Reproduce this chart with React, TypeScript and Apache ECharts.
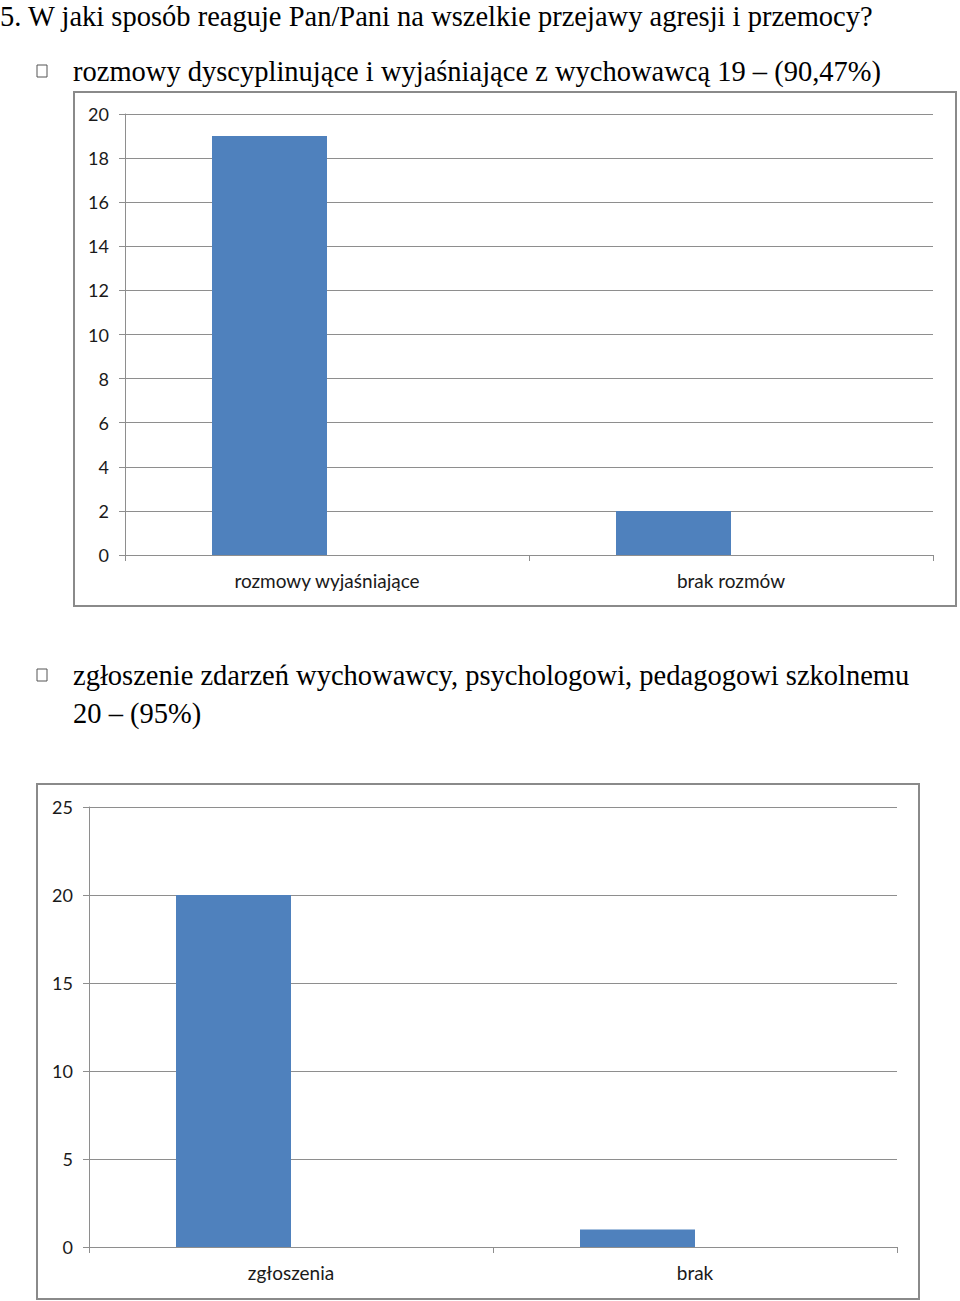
import React, { useEffect, useRef } from "react";
import * as echarts from "echarts";

const questionTitle = "5. W jaki sposób reaguje Pan/Pani na wszelkie przejawy agresji i przemocy?";
const bullet1Text = "rozmowy dyscyplinujące i wyjaśniające z wychowawcą 19 – (90,47%)";
const bullet2Line1 = "zgłoszenie zdarzeń wychowawcy, psychologowi, pedagogowi szkolnemu";
const bullet2Line2 = "20 – (95%)";

const chart1Categories = ["rozmowy wyjaśniające", "brak rozmów"];
const chart1Values = [19, 2];
const chart1Max = 20;
const chart1Interval = 2;

const chart2Categories = ["zgłoszenia", "brak"];
const chart2Values = [20, 1];
const chart2Max = 25;
const chart2Interval = 5;

const BAR = "#4F81BD";
const GRID = "#8e8e8e";
const SERIF = "'Liberation Serif', 'Times New Roman', serif";
const SANS = "Lato, 'Open Sans', sans-serif";

export default function App() {
  const ref = useRef<HTMLDivElement>(null);
  useEffect(() => {
    if (!ref.current) return;
    const chart = echarts.init(ref.current, null, { renderer: "svg" });
    const yAxisBase = (max: number, interval: number, gridIndex: number) => ({
      type: "value",
      gridIndex,
      min: 0,
      max,
      interval,
      axisLine: { show: true, lineStyle: { color: GRID, width: 1 } },
      axisTick: { show: true, length: 6, lineStyle: { color: GRID } },
      axisLabel: { fontSize: 18, color: "#1a1a1a", fontFamily: SANS, margin: 16 },
      splitLine: { show: true, lineStyle: { color: GRID, width: 1 } },
    });
    const xAxisBase = (cats: string[], gridIndex: number) => ({
      type: "category",
      gridIndex,
      data: cats,
      boundaryGap: true,
      axisLine: { show: true, lineStyle: { color: GRID, width: 1 } },
      axisTick: { show: true, length: 6, alignWithLabel: false, lineStyle: { color: GRID } },
      axisLabel: { fontSize: 19, color: "#1a1a1a", fontFamily: SANS, margin: 16, interval: 0 },
      splitLine: { show: false },
    });
    const bulletBox = (x: number, y: number) => ({
      type: "rect",
      shape: { x, y, width: 10, height: 12 },
      style: { fill: "#fff", stroke: "#555", lineWidth: 1 },
    });
    const txt = (x: number, y: number, text: string, fontSize: number) => ({
      type: "text",
      x,
      y,
      style: { text, fontSize, fontFamily: SERIF, fill: "#000", textVerticalAlign: "middle" },
    });
    chart.setOption({
      animation: false,
      backgroundColor: "#fff",
      grid: [
        { left: 125, top: 114, right: 27, bottom: 746, containLabel: false },
        { left: 89, top: 807, right: 63, bottom: 54, containLabel: false },
      ],
      xAxis: [xAxisBase(chart1Categories, 0), xAxisBase(chart2Categories, 1)],
      yAxis: [yAxisBase(chart1Max, chart1Interval, 0), yAxisBase(chart2Max, chart2Interval, 1)],
      series: [
        { type: "bar", xAxisIndex: 0, yAxisIndex: 0, data: chart1Values, barWidth: 115, barGap: "0%", itemStyle: { color: BAR } },
        { type: "bar", xAxisIndex: 0, yAxisIndex: 0, data: chart1Values.map(() => "-"), barWidth: 115, barGap: "0%", itemStyle: { color: BAR } },
        { type: "bar", xAxisIndex: 1, yAxisIndex: 1, data: chart2Values, barWidth: 115, barGap: "0%", itemStyle: { color: BAR } },
        { type: "bar", xAxisIndex: 1, yAxisIndex: 1, data: chart2Values.map(() => "-"), barWidth: 115, barGap: "0%", itemStyle: { color: BAR } },
      ],
      graphic: [
        txt(0, 16, questionTitle, 28.5),
        bulletBox(37, 65),
        txt(73, 71, bullet1Text, 28.5),
        {
          type: "rect",
          shape: { x: 74, y: 92, width: 882, height: 514 },
          style: { fill: "none", stroke: "#8a8a8a", lineWidth: 2 },
          z: -1,
        },
        bulletBox(37, 669),
        txt(73, 675, bullet2Line1, 28.5),
        txt(73, 713, bullet2Line2, 28.5),
        {
          type: "rect",
          shape: { x: 37, y: 784, width: 882, height: 515 },
          style: { fill: "none", stroke: "#8a8a8a", lineWidth: 2 },
          z: -1,
        },
      ],
    });
    return () => chart.dispose();
  }, []);
  return <div ref={ref} style={{ position: "absolute", left: 0, top: 0, width: 960, height: 1301 }} />;
}
